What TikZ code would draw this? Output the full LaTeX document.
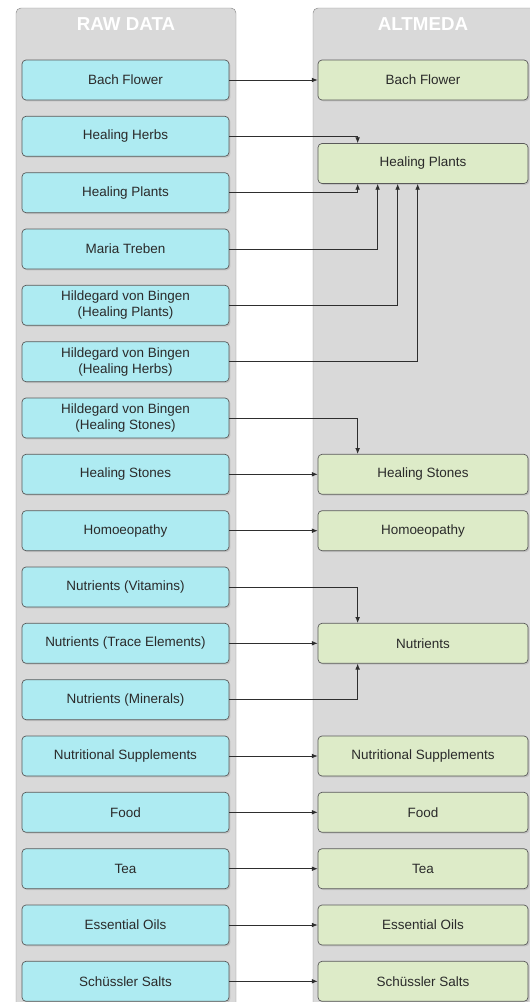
\documentclass[tikz,border=0pt]{standalone}
\usepackage{fontspec}
\setmainfont{Liberation Sans}
\usetikzlibrary{arrows.meta,shadows}
\definecolor{panelfill}{HTML}{D9D9D9}
\definecolor{panelline}{HTML}{8A8A8A}
\definecolor{rawfill}{HTML}{AEEBF2}
\definecolor{altfill}{HTML}{DDEBC8}
\definecolor{boxline}{HTML}{5A5A5A}
\definecolor{boxtext}{HTML}{2A2A2A}
\definecolor{wire}{HTML}{2E2E2E}

\begin{document}
\begin{tikzpicture}[x=0.03cm,y=-0.03cm,
  panel/.style={draw=panelline, fill=panelfill, rounded corners=0.15cm},
  title/.style={text=white, font=\fontsize{16}{19}\selectfont\bfseries},
  link/.style={draw=wire, line width=0.6pt, -{Latex[length=5pt,width=4pt]}}]
 \useasboundingbox (0,0) rectangle (530,1002);
 \clip (0,0) rectangle (530,1002);
 % two columns
 \draw[panel] (16,8) rectangle (236,1020);
 \draw[panel] (313,8) rectangle (545,1020);
 \node[title] (rawtitle) at (126,24) {RAW DATA};
 \node[title] (alttitle) at (423,24) {ALTMEDA};

          \begin{scope}[every node/.style={draw=boxline, line width=0.6pt, fill=rawfill,
            rounded corners=0.12cm, minimum width=6.21cm, minimum height=1.2cm, align=center,
            text=boxtext, font=\fontsize{11.5}{13.6}\selectfont,
            drop shadow={shadow xshift=1.2pt, shadow yshift=-1.2pt, opacity=0.25}}]
          \node (bach) at (125.5,80) {Bach Flower};
          \node (herbs) at (125.5,136.3) {Healing Herbs};
          \node (plants) at (125.5,192.7) {Healing Plants};
          \node (treben) at (125.5,249) {Maria Treben};
          \node (hildplants) at (125.5,305.3) {Hildegard von Bingen\\(Healing Plants)};
          \node (hildherbs) at (125.5,361.7) {Hildegard von Bingen\\(Healing Herbs)};
          \node (hildstones) at (125.5,418) {Hildegard von Bingen\\(Healing Stones)};
          \node (stones) at (125.5,474.3) {Healing Stones};
          \node (homoeo) at (125.5,530.7) {Homoeopathy};
          \node (vitamins) at (125.5,587) {Nutrients (Vitamins)};
          \node (trace) at (125.5,643.3) {Nutrients (Trace Elements)};
          \node (minerals) at (125.5,699.7) {Nutrients (Minerals)};
          \node (suppl) at (125.5,756) {Nutritional Supplements};
          \node (food) at (125.5,812.3) {Food};
          \node (tea) at (125.5,868.7) {Tea};
          \node (oils) at (125.5,925) {Essential Oils};
          \node (salts) at (125.5,981.3) {Schüssler Salts};
          \end{scope}

          \begin{scope}[every node/.style={draw=boxline, line width=0.6pt, fill=altfill,
            rounded corners=0.12cm, minimum width=6.3cm, minimum height=1.2cm, align=center,
            text=boxtext, font=\fontsize{11.5}{13.6}\selectfont,
            drop shadow={shadow xshift=1.2pt, shadow yshift=-1.2pt, opacity=0.25}}]
          \node (abach) at (423,80) {Bach Flower};
          \node (aplants) at (423,163.5) {Healing Plants};
          \node (astones) at (423,474.3) {Healing Stones};
          \node (ahomoeo) at (423,530.7) {Homoeopathy};
          \node (anutr) at (423,643.3) {Nutrients};
          \node (asuppl) at (423,756) {Nutritional Supplements};
          \node (afood) at (423,812.3) {Food};
          \node (atea) at (423,868.7) {Tea};
          \node (aoils) at (423,925) {Essential Oils};
          \node (asalts) at (423,981.3) {Schüssler Salts};
          \end{scope}

          \draw[link] (bach) -- (abach);
          \draw[link] (herbs.east) -| ([xshift=1.2cm]aplants.north west);
          \draw[link] (plants.east) -| ([xshift=1.2cm]aplants.south west);
          \draw[link] (treben.east) -| ([xshift=1.8cm]aplants.south west);
          \draw[link] (hildplants.east) -| ([xshift=2.4cm]aplants.south west);
          \draw[link] (hildherbs.east) -| ([xshift=3.0cm]aplants.south west);
          \draw[link] (hildstones.east) -| ([xshift=1.2cm]astones.north west);
          \draw[link] (stones) -- (astones);
          \draw[link] (homoeo) -- (ahomoeo);
          \draw[link] (vitamins.east) -| ([xshift=1.2cm]anutr.north west);
          \draw[link] (trace) -- (anutr);
          \draw[link] (minerals.east) -| ([xshift=1.2cm]anutr.south west);
          \draw[link] (suppl) -- (asuppl);
          \draw[link] (food) -- (afood);
          \draw[link] (tea) -- (atea);
          \draw[link] (oils) -- (aoils);
          \draw[link] (salts) -- (asalts);
\end{tikzpicture}
\end{document}
